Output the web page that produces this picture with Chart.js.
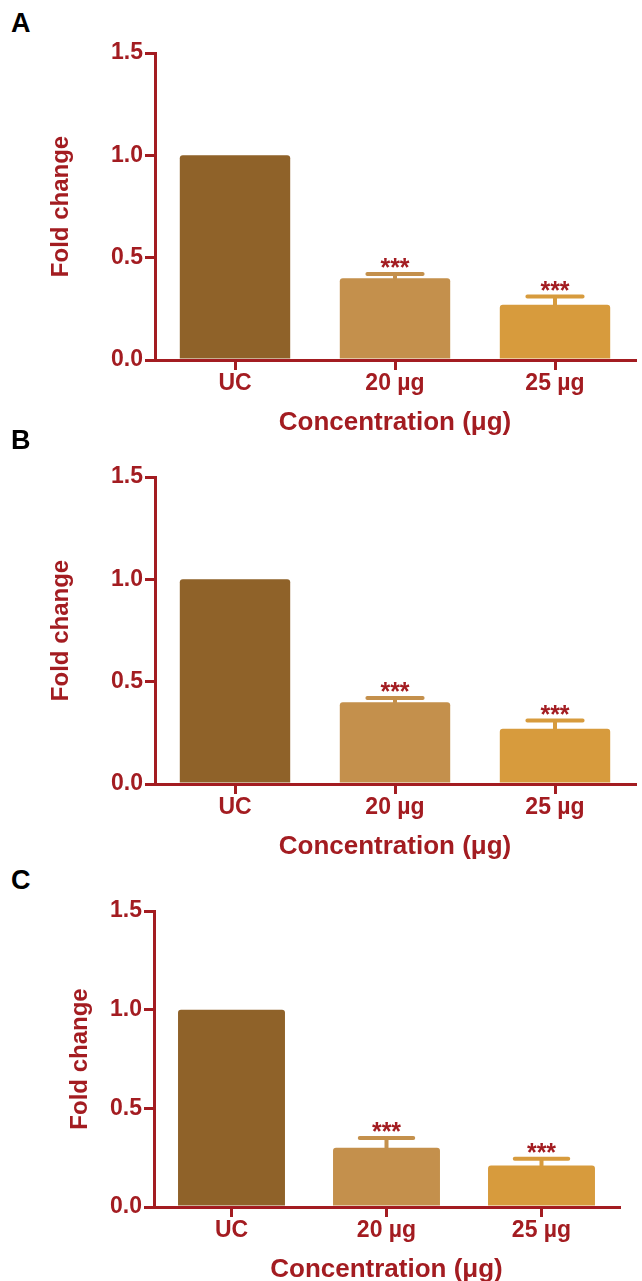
<!DOCTYPE html>
<html lang="en">
<head>
<meta charset="utf-8">
<script src="https://cdn.jsdelivr.net/npm/chart.js"></script>
<style>
  body { margin: 0; background: #fff; overflow: hidden; }
  .panel { position: absolute; left: 0; width: 642px; height: 440px; }
  .tag { position: absolute; left: 11px; font: bold 27px "Liberation Sans", Arial, sans-serif; color: #000; line-height: 27px; }
</style>
</head>
<body>

<div class="tag" style="top:10px">A</div>
<div class="panel" style="top:0px"><canvas id="chartA" width="642" height="440"></canvas></div>

<div class="tag" style="top:427px">B</div>
<div class="panel" style="top:424px"><canvas id="chartB" width="642" height="440"></canvas></div>

<div class="tag" style="top:867px">C</div>
<div class="panel" style="top:858px"><canvas id="chartC" width="642" height="440"></canvas></div>

<script>
  // data
  const categories = ['UC', '20 µg', '25 µg'];
  const significance = ['', '***', '***'];

  const foldA = [1.00, 0.40, 0.27];
  const errA  = [0, 0.02, 0.04];

  const foldB = [1.00, 0.40, 0.27];
  const errB  = [0, 0.02, 0.04];

  const foldC = [1.00, 0.30, 0.21];
  const errC  = [0, 0.05, 0.035];

  const RED = '#a31c21';
  const barColors = ['#8f6229', '#c4904c', '#d79b3d'];
  const FONT = '"Liberation Sans", Arial, sans-serif';

  // error bar (upper only) + stars
  const errorBarPlugin = {
    id: 'errorBars',
    afterDatasetsDraw(chart) {
      const ctx = chart.ctx;
      const y = chart.scales.y;
      const ds = chart.data.datasets[0];
      const meta = chart.getDatasetMeta(0);
      meta.data.forEach((bar, i) => {
        const err = ds.errors[i];
        if (!err) return;
        const base = y.getPixelForValue(ds.data[i]);
        const top = y.getPixelForValue(ds.data[i] + err);
        const half = bar.width * 0.25;
        ctx.save();
        ctx.strokeStyle = ds.backgroundColor[i];
        ctx.lineWidth = 4;
        ctx.lineCap = 'round';
        ctx.beginPath();
        ctx.moveTo(bar.x, base);
        ctx.lineTo(bar.x, top);
        ctx.moveTo(bar.x - half, top);
        ctx.lineTo(bar.x + half, top);
        ctx.stroke();
        ctx.fillStyle = RED;
        ctx.font = 'bold 25px ' + FONT;
        ctx.textAlign = 'center';
        ctx.textBaseline = 'alphabetic';
        ctx.fillText(significance[i], bar.x, top + 2);
        ctx.restore();
      });
    }
  };

  function makeChart(id, values, errors, box) {
    const canvas = document.getElementById(id);
    return new Chart(canvas.getContext('2d'), {
      type: 'bar',
      data: {
        labels: categories,
        datasets: [{
          data: values,
          errors: errors,
          backgroundColor: barColors,
          borderWidth: 0,
          borderRadius: 3,
          borderSkipped: 'bottom',
          barPercentage: 0.69,
          categoryPercentage: 1
        }]
      },
      options: {
        responsive: false,
        animation: false,
        devicePixelRatio: 1,
        layout: { padding: { left: 0, top: box.top, right: 642 - box.right, bottom: 0 } },
        plugins: { legend: { display: false }, tooltip: { enabled: false } },
        scales: {
          x: {
            offset: true,
            afterFit: (s) => { s.height = 440 - box.bottom; },
            grid: { display: true, offset: false, drawOnChartArea: false, color: RED, lineWidth: 3, tickLength: 10 },
            border: { display: true, color: RED, width: 3 },
            ticks: { color: RED, padding: 0, font: { family: FONT, size: 23, weight: 'bold' } },
            title: {
              display: true,
              text: 'Concentration (μg)',
              color: RED,
              font: { family: FONT, size: 26, weight: 'bold' },
              padding: { top: 0, bottom: box.xTitlePad }
            }
          },
          y: {
            min: 0,
            max: 1.5,
            afterFit: (s) => { s.width = box.left; },
            grid: { display: true, drawOnChartArea: false, color: RED, lineWidth: 3, tickLength: 10 },
            border: { display: true, color: RED, width: 3 },
            ticks: {
              stepSize: 0.5,
              color: RED,
              padding: 2,
              font: { family: FONT, size: 23, weight: 'bold' },
              callback: (v) => Number(v).toFixed(1)
            },
            title: {
              display: true,
              text: 'Fold change',
              color: RED,
              font: { family: FONT, size: 24, weight: 'bold' },
              padding: { top: box.yTitlePad, bottom: 0 }
            }
          }
        }
      },
      plugins: [errorBarPlugin]
    });
  }

  makeChart('chartA', foldA, errA, { left: 155, right: 635, top: 53, bottom: 360, yTitlePad: 47, xTitlePad: 2 });
  makeChart('chartB', foldB, errB, { left: 155, right: 635, top: 53, bottom: 360, yTitlePad: 47, xTitlePad: 2 });
  makeChart('chartC', foldC, errC, { left: 154, right: 619, top: 53, bottom: 349, yTitlePad: 66, xTitlePad: 13 });
</script>

</body>
</html>
